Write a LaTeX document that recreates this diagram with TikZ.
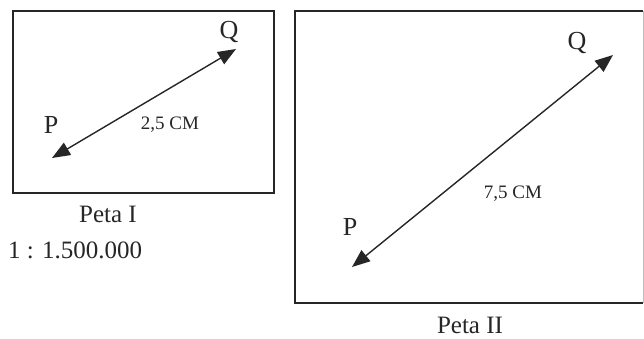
\documentclass[tikz,border=0pt]{standalone}
\usepackage{fontspec}
\setmainfont{Liberation Serif}
\usetikzlibrary{arrows.meta}
\definecolor{ink}{HTML}{262626}
\tikzset{
  mapbox/.style={draw=ink, line width=1.9pt, inner sep=0pt},
  dist/.style={draw=ink, line width=1.4pt, {Triangle[length=18pt,width=14pt]}-{Triangle[length=18pt,width=14pt]}},
  ptlabel/.style={text=ink, font=\fontsize{26}{28}\selectfont, inner sep=0pt},
  lenlabel/.style={text=ink, font=\fontsize{19}{21}\selectfont, inner sep=0pt},
  caption/.style={text=ink, font=\fontsize{25}{27}\selectfont, inner sep=0pt}
}
\begin{document}
\begin{tikzpicture}[x=1pt,y=-1pt]
\useasboundingbox (0,0) rectangle (644,338);
% Map I
\node[mapbox, minimum width=261pt, minimum height=182pt] (map1) at (143.5,102) {};
\coordinate (p1) at (52,158);
\coordinate (q1) at (236,49);
\draw[dist] (p1) -- (q1);
\node[ptlabel] (lq1) at (229,32) {Q};
\node[ptlabel] (lp1) at (51,125) {P};
\node[lenlabel] (d1) at (170,125) {2,5 CM};
\node[caption] (t1) at (108,214) {Peta I};
\node[caption, anchor=west] (s1) at (8,250) {1 : 1.500.000};
% Map II
\node[inner sep=0pt, minimum width=348pt, minimum height=292pt] (map2) at (469,157) {};
\draw[ink, line width=1.9pt] (map2.north east) -- (map2.north west) -- (map2.south west) -- (map2.south east);
\draw[ink!30, line width=0.6pt] (map2.north east) -- (map2.south east);
\coordinate (p2) at (352,267);
\coordinate (q2) at (613,55);
\draw[dist] (p2) -- (q2);
\node[ptlabel] (lq2) at (577,43) {Q};
\node[ptlabel] (lp2) at (350,227) {P};
\node[lenlabel] (d2) at (513,194) {7,5 CM};
\node[caption] (t2) at (470,325) {Peta II};
\end{tikzpicture}
\end{document}
